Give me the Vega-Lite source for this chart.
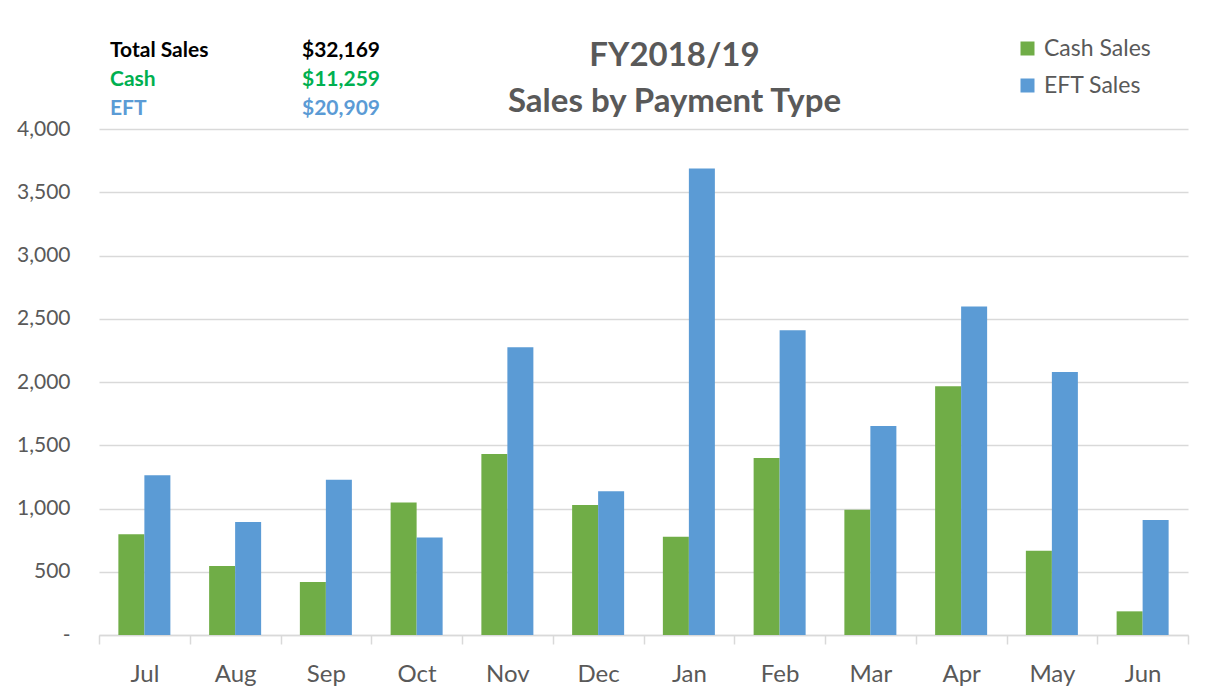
{
  "$schema": "https://vega.github.io/schema/vega-lite/v6.json",
  "width": 1089,
  "height": 506,
  "autosize": {"type": "none"},
  "padding": {"left": 99, "top": 129, "right": 24, "bottom": 56},
  "background": "white",
  "title": {
    "text": ["FY2018/19", "Sales by Payment Type"],
    "anchor": "middle",
    "frame": "group",
    "dx": 31,
    "dy": 101,
    "offset": 19,
    "font": "Lato",
    "fontSize": 33,
    "fontWeight": "bold",
    "color": "#595959",
    "lineHeight": 46
  },
  "datasets": {
    "sales": [
      {"month": "Jul", "type": "Cash Sales", "amount": 796},
      {"month": "Jul", "type": "EFT Sales", "amount": 1262},
      {"month": "Aug", "type": "Cash Sales", "amount": 546},
      {"month": "Aug", "type": "EFT Sales", "amount": 893},
      {"month": "Sep", "type": "Cash Sales", "amount": 418},
      {"month": "Sep", "type": "EFT Sales", "amount": 1228},
      {"month": "Oct", "type": "Cash Sales", "amount": 1048},
      {"month": "Oct", "type": "EFT Sales", "amount": 771},
      {"month": "Nov", "type": "Cash Sales", "amount": 1430},
      {"month": "Nov", "type": "EFT Sales", "amount": 2275},
      {"month": "Dec", "type": "Cash Sales", "amount": 1028},
      {"month": "Dec", "type": "EFT Sales", "amount": 1136},
      {"month": "Jan", "type": "Cash Sales", "amount": 777},
      {"month": "Jan", "type": "EFT Sales", "amount": 3688},
      {"month": "Feb", "type": "Cash Sales", "amount": 1400},
      {"month": "Feb", "type": "EFT Sales", "amount": 2409},
      {"month": "Mar", "type": "Cash Sales", "amount": 991},
      {"month": "Mar", "type": "EFT Sales", "amount": 1653},
      {"month": "Apr", "type": "Cash Sales", "amount": 1966},
      {"month": "Apr", "type": "EFT Sales", "amount": 2597},
      {"month": "May", "type": "Cash Sales", "amount": 666},
      {"month": "May", "type": "EFT Sales", "amount": 2080},
      {"month": "Jun", "type": "Cash Sales", "amount": 187},
      {"month": "Jun", "type": "EFT Sales", "amount": 909}
    ],
    "summary": [
      {"grp": "Total", "label": "Total Sales", "value": "$32,169"},
      {"grp": "Cash", "label": "Cash", "value": "\u00a0$11,259"},
      {"grp": "EFT", "label": "EFT", "value": "$20,909"}
    ]
  },
  "layer": [
    {
      "data": {"name": "sales"},
      "mark": {"type": "bar"},
      "encoding": {
        "x": {
          "field": "month",
          "type": "nominal",
          "sort": ["Jul", "Aug", "Sep", "Oct", "Nov", "Dec", "Jan", "Feb", "Mar", "Apr", "May", "Jun"],
          "scale": {"paddingInner": 0, "paddingOuter": 0},
          "axis": {
            "title": null,
            "labelAngle": 0,
            "tickBand": "extent",
            "tickSize": 9,
            "tickColor": "#D9D9D9",
            "tickWidth": 1.5,
            "domainColor": "#D9D9D9",
            "domainWidth": 1.5,
            "labelFont": "Lato",
            "labelFontSize": 24,
            "labelColor": "#595959",
            "labelPadding": 18,
            "grid": false
          }
        },
        "xOffset": {
          "field": "type",
          "type": "nominal",
          "sort": ["Cash Sales", "EFT Sales"],
          "scale": {"paddingInner": 0, "paddingOuter": 0.745}
        },
        "y": {
          "field": "amount",
          "type": "quantitative",
          "scale": {"domain": [0, 4000], "nice": false},
          "axis": {
            "title": null,
            "values": [0, 500, 1000, 1500, 2000, 2500, 3000, 3500, 4000],
            "labelExpr": "datum.value === 0 ? '-' : format(datum.value, ',')",
            "domain": false,
            "ticks": false,
            "tickSize": 0,
            "labelPadding": 29,
            "grid": true,
            "gridColor": "#D9D9D9",
            "gridWidth": 1.3,
            "labelFont": "Lato",
            "labelFontSize": 21,
            "labelColor": "#595959"
          }
        },
        "color": {
          "field": "type",
          "type": "nominal",
          "scale": {"domain": ["Cash Sales", "EFT Sales"], "range": ["#70AD47", "#5B9BD5"]},
          "legend": {
            "title": null,
            "orient": "none",
            "legendX": 917,
            "legendY": -92,
            "symbolType": "square",
            "symbolSize": 196,
            "symbolStrokeWidth": 0,
            "labelFont": "Lato",
            "labelFontSize": 23,
            "labelColor": "#595959",
            "labelOffset": 5,
            "rowPadding": 13,
            "padding": 0
          }
        }
      }
    },
    {
      "data": {"name": "summary"},
      "encoding": {
        "y": {
          "field": "grp",
          "type": "ordinal",
          "scale": {"type": "point", "domain": ["Total", "Cash", "EFT"], "range": [-72, -14], "padding": 0},
          "axis": null
        },
        "color": {
          "field": "grp",
          "type": "nominal",
          "scale": {"domain": ["Total", "Cash", "EFT"], "range": ["#000000", "#00B050", "#5B9BD5"]},
          "legend": null
        }
      },
      "layer": [
        {
          "mark": {"type": "text", "align": "left", "baseline": "alphabetic", "font": "Lato", "fontSize": 21, "fontWeight": "bold"},
          "encoding": {
            "x": {"datum": "label", "type": "ordinal", "scale": {"type": "point", "domain": ["label", "value"], "range": [11, 203], "padding": 0}, "axis": null},
            "text": {"field": "label"}
          }
        },
        {
          "mark": {"type": "text", "align": "left", "baseline": "alphabetic", "font": "Lato", "fontSize": 21, "fontWeight": "bold"},
          "encoding": {
            "x": {"datum": "value", "type": "ordinal", "axis": null},
            "text": {"field": "value"}
          }
        }
      ]
    }
  ],
  "resolve": {"scale": {"x": "independent", "y": "independent", "color": "independent"}},
  "config": {
    "view": {"stroke": null},
    "font": "Lato"
  }
}
